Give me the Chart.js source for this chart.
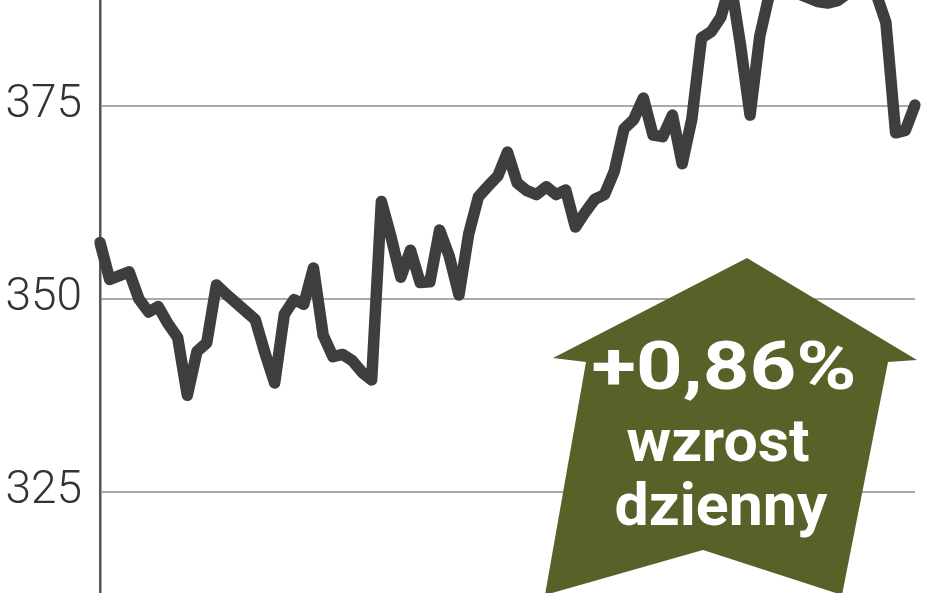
<!DOCTYPE html>
<html>
<head>
<meta charset="utf-8">
<script src="https://cdn.jsdelivr.net/npm/chart.js@4.4.0/dist/chart.umd.min.js"></script>
<style>
  body { margin: 0; background: #fff; }
  #wrap { width: 948px; height: 593px; }
</style>
</head>
<body>
<div id="wrap"><canvas id="myChart" width="948" height="593"></canvas></div>
<script>
// closing values, one per session
var values = [
    357.3, 352.5, 353.0, 353.5, 350.0, 348.3, 349.0, 346.8, 345.0, 337.5,
    343.2, 344.3, 351.8, 350.6, 349.5, 348.4, 347.3, 343.0, 339.1, 348.0,
    349.9, 349.3, 354.0, 345.3, 342.5, 342.8, 342.0, 340.5, 339.5, 362.6,
    358.0, 352.8, 356.3, 352.1, 352.2, 358.9, 355.5, 350.5, 358.4, 363.2,
    364.6, 365.9, 369.0, 365.0, 364.0, 363.5, 364.5, 363.5, 364.1, 359.3,
    361.2, 362.9, 363.5, 366.5, 372.0, 373.2, 376.0, 371.2, 371.0, 373.8,
    367.5, 373.3, 383.8, 384.6, 386.5, 391.0, 383.0, 373.8, 384.0, 389.5,
    390.0, 389.8, 389.5, 389.0, 388.5, 388.3, 388.6, 389.5, 390.5, 390.5,
    389.5, 385.8, 371.5, 371.8, 375.1
];
var sessions = values.map(function (v, i) { return String(i + 1); });
var yTicks = [325, 350, 375];
var yMin = 311.9;
var yMax = 388.7;
var badgeLines = ["+0,86%", "wzrost", "dzienny"];

// draws text stretched to a given width
function fitText(ctx, text, cx, baseline, size, width) {
    ctx.font = 'bold ' + size + 'px Roboto';
    var w = ctx.measureText(text).width;
    ctx.save();
    ctx.translate(cx, baseline);
    ctx.scale(width / w, 1);
    ctx.textAlign = 'center';
    ctx.textBaseline = 'alphabetic';
    ctx.fillText(text, 0, 0);
    ctx.restore();
}

var arrowPlugin = {
    id: 'arrowBadge',
    afterDatasetsDraw: function (chart) {
        var ctx = chart.ctx;
        ctx.save();
        ctx.fillStyle = '#5a6128';
        ctx.beginPath();
        ctx.moveTo(747, 258);
        ctx.lineTo(917, 360);
        ctx.lineTo(888, 362);
        ctx.lineTo(842, 595);
        ctx.lineTo(703, 550);
        ctx.lineTo(545, 595);
        ctx.lineTo(586, 362);
        ctx.lineTo(553, 358);
        ctx.closePath();
        ctx.fill();

        ctx.fillStyle = '#ffffff';
        fitText(ctx, badgeLines[0], 724, 389, 67, 265);
        fitText(ctx, badgeLines[1], 718, 461, 60, 183);
        fitText(ctx, badgeLines[2], 721, 525, 60, 213);
        ctx.restore();
    }
};

var ctx = document.getElementById('myChart').getContext('2d');
var myChart = new Chart(ctx, {
    type: 'line',
    data: {
        labels: sessions,
        datasets: [{
            data: values,
            borderColor: '#3e3e3e',
            borderWidth: 11.5,
            borderJoinStyle: 'round',
            borderCapStyle: 'round',
            pointRadius: 0,
            tension: 0,
            fill: false
        }]
    },
    options: {
        responsive: false,
        animation: false,
        layout: { padding: { left: 0, right: 33, top: 0, bottom: 0 } },
        plugins: {
            legend: { display: false },
            tooltip: { enabled: false }
        },
        scales: {
            x: { display: false },
            y: {
                min: yMin,
                max: yMax,
                afterBuildTicks: function (scale) {
                    scale.ticks = yTicks.map(function (v) { return { value: v }; });
                },
                afterFit: function (scale) {
                    scale.width = 100;
                    scale.paddingTop = 0;
                    scale.paddingBottom = 0;
                },
                ticks: {
                    padding: 18,
                    color: '#333',
                    font: { family: 'Roboto', size: 46, weight: 300 }
                },
                grid: { color: '#aaaaaa', lineWidth: 2, drawTicks: false },
                border: { color: '#555', width: 2.5 }
            }
        }
    },
    plugins: [arrowPlugin]
});
</script>
</body>
</html>
